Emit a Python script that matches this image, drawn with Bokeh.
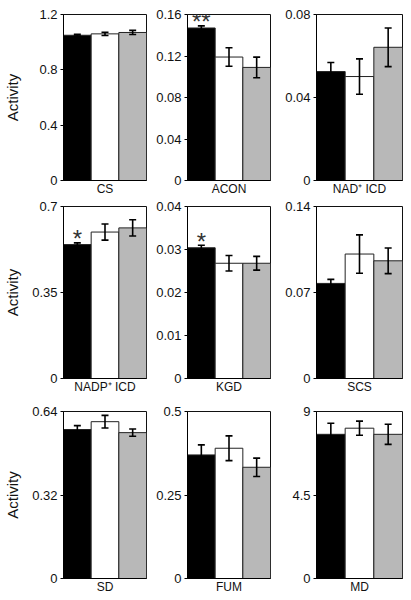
from bokeh.plotting import figure
from bokeh.layouts import column, row
from bokeh.models import Range1d, FixedTicker, Whisker, TeeHead, ColumnDataSource
from bokeh.embed import file_html
from bokeh.resources import INLINE
from bokeh.core.properties import value

# ---- data ----
enzymes = ["CS", "ACON", "NAD\u207a ICD", "NADP\u207a ICD", "KGD", "SCS", "SD", "FUM", "MD"]
black_vals = [1.05, 0.147, 0.0525, 0.545, 0.0304, 0.0774, 0.571, 0.370, 7.77]
white_vals = [1.06, 0.119, 0.0501, 0.596, 0.0268, 0.1013, 0.601, 0.390, 8.10]
gray_vals = [1.07, 0.109, 0.0642, 0.613, 0.0268, 0.0958, 0.559, 0.333, 7.77]
black_err = [0.006, 0.002, 0.0044, 0.007, 0.0006, 0.0033, 0.015, 0.030, 0.60]
white_err = [0.012, 0.0089, 0.0085, 0.033, 0.0018, 0.0156, 0.024, 0.037, 0.38]
gray_err = [0.015, 0.0099, 0.0093, 0.033, 0.0016, 0.0104, 0.014, 0.0275, 0.54]
y_max = [1.2, 0.16, 0.08, 0.7, 0.04, 0.14, 0.64, 0.5, 9]
y_ticks = [[0, 0.4, 0.8, 1.2], [0, 0.04, 0.08, 0.12, 0.16], [0, 0.04, 0.08],
           [0, 0.35, 0.7], [0, 0.01, 0.02, 0.03, 0.04], [0, 0.07, 0.14],
           [0, 0.32, 0.64], [0, 0.25, 0.5], [0, 4.5, 9]]
y_tick_labels = [["0", "0.4", "0.8", "1.2"], ["0", "0.04", "0.08", "0.12", "0.16"], ["0", "0.04", "0.08"],
                 ["0", "0.35", "0.7"], ["0", "0.01", "0.02", "0.03", "0.04"], ["0", "0.07", "0.14"],
                 ["0", "0.32", "0.64"], ["0", "0.25", "0.5"], ["0", "4.5", "9"]]
stars = ["", "**", "", "*", "*", "", "", "", ""]
y_label = "Activity"

# ---- styling / layout ----
FONT = "Liberation Sans"
bar_colors = ["#000000", "#ffffff", "#b8b8b8"]
col_w = [150, 125, 136]
col_L = [63, 37, 41]
col_R = [4, 5, 9]
row_h = [198, 198, 200]
row_T = [14, 8, 15]
row_B = [16, 16, 18]
act_standoff = [15, 8, 8]

figs = []
for i in range(9):
    r, c = divmod(i, 3)
    p = figure(width=col_w[c], height=row_h[r], x_range=Range1d(0, 3), y_range=Range1d(0, y_max[i]),
               output_backend="svg", toolbar_location=None,
               min_border_left=col_L[c], min_border_right=col_R[c],
               min_border_top=row_T[r], min_border_bottom=row_B[r])
    p.xgrid.visible = False
    p.ygrid.visible = False
    p.outline_line_color = "#111111"
    p.outline_line_width = 1
    p.background_fill_color = "white"
    p.border_fill_color = "white"

    vals = [black_vals[i], white_vals[i], gray_vals[i]]
    errs = [black_err[i], white_err[i], gray_err[i]]
    xs = [k + 0.5 for k in range(3)]
    src = ColumnDataSource(dict(x=xs, top=vals, color=bar_colors,
                                upper=[v + e for v, e in zip(vals, errs)],
                                lower=[v - e for v, e in zip(vals, errs)]))
    p.vbar(x="x", top="top", width=1, bottom=0, fill_color="color", line_color="#222222",
           line_width=1, source=src)
    w = Whisker(base="x", upper="upper", lower="lower", source=src, line_color="black",
                line_width=1.6, level="overlay",
                upper_head=TeeHead(size=7, line_width=1.6, line_color="black"),
                lower_head=TeeHead(size=7, line_width=1.6, line_color="black"))
    p.add_layout(w)

    if stars[i]:
        p.text(x=[xs[0]], y=[vals[0]], text=[stars[i]], text_font=value(FONT),
               text_font_size="24px", text_align="center", text_baseline="alphabetic",
               y_offset=-6, text_color="#333333")

    # y axis
    ya = p.yaxis[0]
    ya.ticker = FixedTicker(ticks=y_ticks[i])
    ya.major_label_overrides = {t: s for t, s in zip(y_ticks[i], y_tick_labels[i])}
    ya.minor_tick_line_color = None
    ya.major_tick_out = 3
    ya.major_tick_in = 0
    ya.major_label_standoff = 3
    ya.major_label_text_font = FONT
    ya.major_label_text_font_size = "13px"
    ya.major_label_text_color = "#111111"
    ya.axis_line_color = "black"
    ya.major_tick_line_color = "black"
    if c == 0:
        ya.axis_label = y_label
        ya.axis_label_text_font = FONT
        ya.axis_label_text_font_size = "15px"
        ya.axis_label_text_font_style = "normal"
        ya.axis_label_text_color = "#111111"
        ya.axis_label_standoff = act_standoff[r]

    # x axis: single centred category label
    xa = p.xaxis[0]
    xa.ticker = FixedTicker(ticks=[1.5])
    xa.major_label_overrides = {1.5: enzymes[i]}
    xa.minor_tick_line_color = None
    xa.major_tick_line_color = None
    xa.major_tick_out = 0
    xa.major_tick_in = 0
    xa.major_label_standoff = 1
    xa.major_label_text_font = FONT
    xa.major_label_text_font_size = "12px"
    xa.major_label_text_color = "#111111"
    xa.axis_line_color = "black"
    figs.append(p)

layout = column(row(figs[0], figs[1], figs[2], spacing=0),
                row(figs[3], figs[4], figs[5], spacing=0),
                row(figs[6], figs[7], figs[8], spacing=0), spacing=0)

open("out.html", "w").write(file_html(layout, INLINE))
